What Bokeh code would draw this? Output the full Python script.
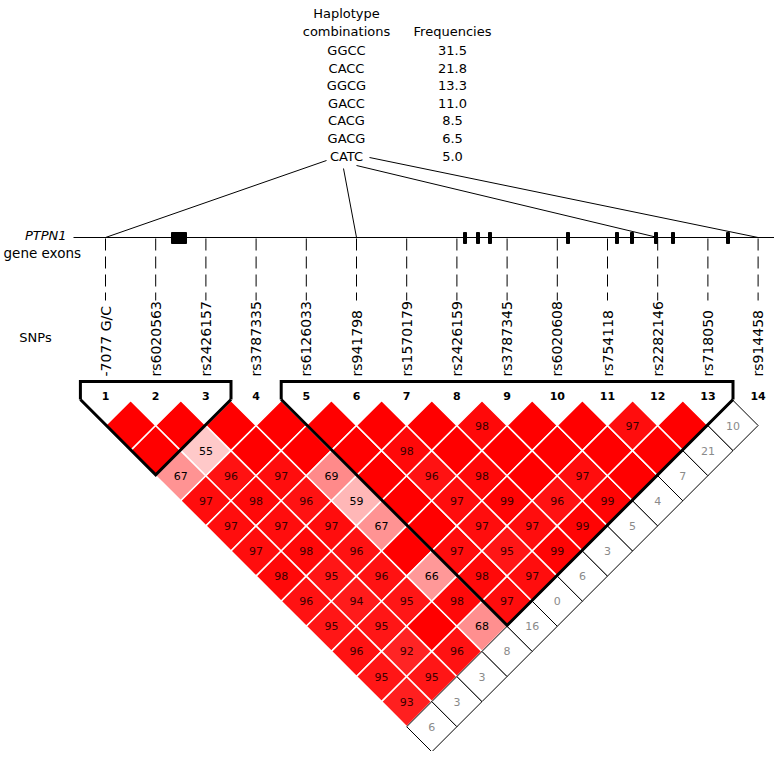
import numpy as np
from bokeh.plotting import figure
from bokeh.models import Range1d
from bokeh.core.properties import value
from bokeh.embed import file_html
from bokeh.resources import INLINE

# ---------------- data ----------------
snp_names = ["-7077 G/C", "rs6020563", "rs2426157", "rs3787335", "rs6126033",
             "rs941798", "rs1570179", "rs2426159", "rs3787345", "rs6020608",
             "rs754118", "rs2282146", "rs718050", "rs914458"]

# D' (x100) of SNP i with each later SNP j (j = i+1 .. 14); 100 = complete LD (unlabelled)
dprime_rows = [
    [100, 100, 67, 97, 97, 97, 98, 96, 95, 96, 95, 93, 6],
    [100, 55, 96, 98, 97, 98, 95, 94, 95, 92, 95, 3],
    [100, 100, 97, 96, 97, 96, 96, 95, 100, 96, 3],
    [100, 100, 69, 59, 67, 100, 66, 98, 68, 8],
    [100, 100, 100, 100, 100, 97, 98, 97, 16],
    [100, 98, 96, 97, 97, 95, 97, 0],
    [100, 100, 98, 99, 97, 99, 6],
    [98, 100, 100, 96, 99, 3],
    [100, 100, 97, 99, 5],
    [100, 100, 100, 4],
    [97, 100, 7],
    [100, 21],
    [10],
]
low_lod_snps = [14]          # pairs involving these SNPs have LOD < 2
blocks = [(1, 3), (5, 13)]   # haplotype blocks (first SNP, last SNP)

hap_names = ["GGCC", "CACC", "GGCG", "GACC", "CACG", "GACG", "CATC"]
hap_freqs = ["31.5", "21.8", "13.3", "11.0", "8.5", "6.5", "5.0"]
hap_snps = [1, 6, 12, 14]    # SNPs making up the haplotypes

# exons on the gene map (map units = pixels of the drawing)
exon_start = [171, 463, 476, 488, 566, 615, 630, 654, 671, 726]
exon_end   = [186, 466, 479, 491, 569, 618, 633, 657, 674, 729]

# ---------------- geometry ----------------
n = len(snp_names)
x0, step = 105.0, 50.2
half = step / 2.0
sx = [x0 + step * i for i in range(n)]
row_y0 = 425.0
gene_y = 237.0

FONT = value("DejaVu Sans")

p = figure(width=774, height=751, output_backend="svg", toolbar_location=None,
           x_range=Range1d(0, 774), y_range=Range1d(751, 0),
           min_border=0, outline_line_color=None)
p.xaxis.visible = False
p.yaxis.visible = False
p.xgrid.visible = False
p.ygrid.visible = False
p.background_fill_color = "white"
p.border_fill_color = "white"


def cell_color(d):
    if d >= 100:
        return "#ff0000"
    g = int(round(223 * 2 * (1 - d / 100.0)))
    g = max(0, min(255, g))
    return "#%02x%02x%02x" % (255, g, g)


xs_hi, ys_hi, col_hi = [], [], []
xs_lo, ys_lo = [], []
lab_x, lab_y, lab_t, lab_c = [], [], [], []
for i, row in enumerate(dprime_rows):
    for k, d in enumerate(row):
        j = i + 1 + k
        cx = (sx[i] + sx[j]) / 2.0
        cy = row_y0 + half * (j - i - 1)
        px = [cx, cx + half, cx, cx - half]
        py = [cy - half, cy, cy + half, cy]
        low = (i + 1) in low_lod_snps or (j + 1) in low_lod_snps
        if low:
            xs_lo.append(px); ys_lo.append(py)
        else:
            xs_hi.append(px); ys_hi.append(py); col_hi.append(cell_color(d))
        if d < 100:
            lab_x.append(cx); lab_y.append(cy); lab_t.append(str(d))
            lab_c.append("#8a8a8a" if low else ("#000000" if d < 80 else "#3a0000"))

p.patches(xs_hi, ys_hi, fill_color=col_hi, line_color="white", line_width=1.5)
p.patches(xs_lo, ys_lo, fill_color="white", line_color="black", line_width=1)
p.text(lab_x, lab_y, text=lab_t, text_color=lab_c, text_align="center",
       text_baseline="middle", text_font=FONT, text_font_size=value("11px"))

# block outlines
for (a, b) in blocks:
    xl = sx[a - 1] - half
    xr = sx[b - 1] + half
    xm = (xl + xr) / 2.0
    top, shoulder = 381, 399
    bottom = shoulder + (xr - xl) / 2.0
    p.line([xl, xl, xr, xr], [shoulder, top, top, shoulder],
           line_color="black", line_width=3, line_join="miter")
    p.line([xl, xm, xr], [shoulder, bottom, shoulder],
           line_color="black", line_width=3, line_join="miter")

# SNP numbers
p.text(sx, [395] * n, text=[str(i + 1) for i in range(n)], text_align="center",
       text_baseline="middle", text_font=FONT, text_font_size=value("11px"),
       text_font_style="bold", text_color="black")

# SNP names (rotated)
p.text(sx, [376] * n, text=snp_names, angle=np.pi / 2, text_align="left",
       text_baseline="middle", text_font=FONT, text_font_size=value("14px"),
       text_color="black")

# dashed connectors from gene map to SNP names
p.multi_line([[x, x] for x in sx], [[gene_y + 1, 300]] * n, line_color="black",
             line_width=1, line_dash="12 6")

# gene map
p.line([73, 782], [gene_y, gene_y], line_color="black", line_width=1)
p.quad(left=exon_start, right=exon_end, top=[232] * len(exon_start),
       bottom=[243] * len(exon_start), fill_color="black", line_color="black")
p.text([66], [235], text=["PTPN1"], text_align="right", text_baseline="middle",
       text_font=FONT, text_font_size=value("13px"), text_font_style="italic")
p.text([3], [252], text=["gene exons"], text_align="left", text_baseline="middle",
       text_font=FONT, text_font_size=value("13.5px"))
p.text([35], [337], text=["SNPs"], text_align="center", text_baseline="middle",
       text_font=FONT, text_font_size=value("13px"))

# haplotype table
hx, fx = 346, 452
ty = [50 + 17.6 * k for k in range(len(hap_names))]
p.text([hx], [13], text=["Haplotype"], text_align="center", text_baseline="middle",
       text_font=FONT, text_font_size=value("13px"))
p.text([hx, fx], [31, 31], text=["combinations", "Frequencies"], text_align="center",
       text_baseline="middle", text_font=FONT, text_font_size=value("13px"))
p.text([hx] * len(hap_names), ty, text=hap_names, text_align="center",
       text_baseline="middle", text_font=FONT, text_font_size=value("13px"))
p.text([fx] * len(hap_freqs), ty, text=hap_freqs, text_align="center",
       text_baseline="middle", text_font=FONT, text_font_size=value("13px"))

# lines from the last haplotype to its SNPs on the gene map
starts = [(326, 160), (343, 168), (356, 165), (369, 157)]
lx = [[s[0], sx[k - 1]] for s, k in zip(starts, hap_snps)]
ly = [[s[1], gene_y] for s in starts]
p.multi_line(lx, ly, line_color="black", line_width=1)

open("out.html", "w").write(file_html(p, INLINE))
